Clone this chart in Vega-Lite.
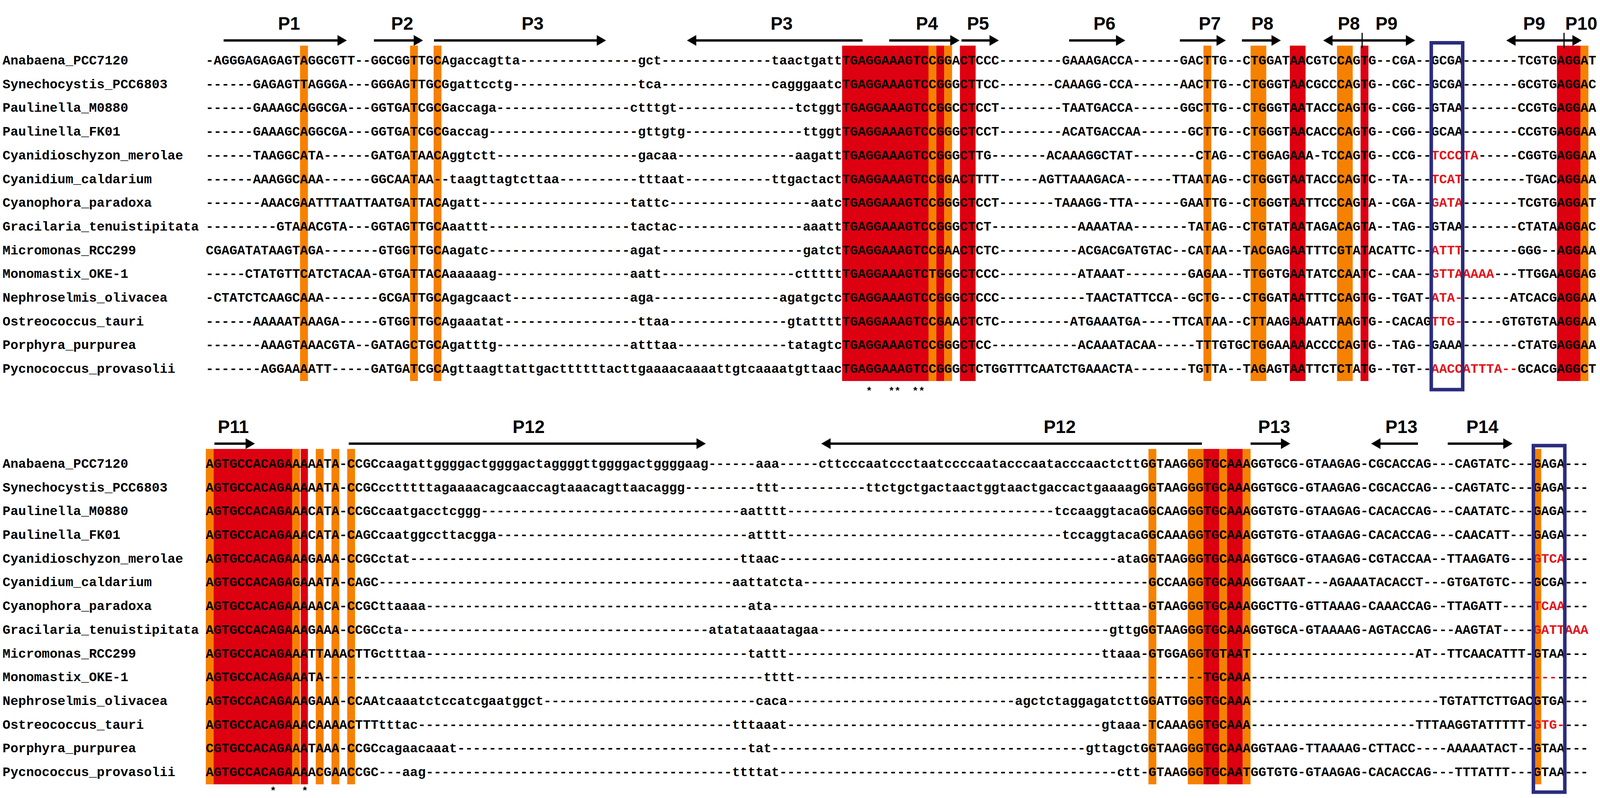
{
  "$schema": "https://vega.github.io/schema/vega-lite/v6.json",
  "width": "container",
  "height": 2042,
  "autosize": {"type": "fit-x", "contains": "padding", "resize": true},
  "padding": 0,
  "background": "white",
  "config": {"view": {"stroke": null}},
  "datasets": {
    "hl": [
      {"c": 12, "c2": 13, "r": -0.63, "r2": 13.51, "k": "o"},
      {"c": 26, "c2": 27, "r": -0.63, "r2": 13.51, "k": "o"},
      {"c": 29, "c2": 30, "r": -0.63, "r2": 13.51, "k": "o"},
      {"c": 81, "c2": 92, "r": -0.63, "r2": 13.51, "k": "r"},
      {"c": 92, "c2": 93, "r": -0.63, "r2": 13.51, "k": "o"},
      {"c": 93, "c2": 94, "r": -0.63, "r2": 13.51, "k": "r"},
      {"c": 94, "c2": 95, "r": -0.63, "r2": 13.51, "k": "o"},
      {"c": 96, "c2": 98, "r": -0.63, "r2": 13.51, "k": "r"},
      {"c": 127, "c2": 128, "r": -0.63, "r2": 13.51, "k": "o"},
      {"c": 133, "c2": 135, "r": -0.63, "r2": 13.51, "k": "o"},
      {"c": 138, "c2": 140, "r": -0.63, "r2": 13.51, "k": "r"},
      {"c": 144, "c2": 146, "r": -0.63, "r2": 13.51, "k": "o"},
      {"c": 147, "c2": 148, "r": -0.63, "r2": 13.51, "k": "r"},
      {"c": 172, "c2": 175, "r": -0.63, "r2": 13.51, "k": "r"},
      {"c": 175, "c2": 176, "r": -0.63, "r2": 13.51, "k": "o"},
      {"c": 0, "c2": 1, "r": 16.37, "r2": 30.51, "k": "o"},
      {"c": 1, "c2": 11, "r": 16.37, "r2": 30.51, "k": "r"},
      {"c": 11, "c2": 12, "r": 16.37, "r2": 30.51, "k": "o"},
      {"c": 12.08, "c2": 13, "r": 16.37, "r2": 30.51, "k": "r"},
      {"c": 14, "c2": 15, "r": 16.37, "r2": 30.51, "k": "o"},
      {"c": 16, "c2": 17, "r": 16.37, "r2": 30.51, "k": "o"},
      {"c": 18, "c2": 19, "r": 16.37, "r2": 30.51, "k": "o"},
      {"c": 120, "c2": 121, "r": 16.37, "r2": 30.51, "k": "o"},
      {"c": 125, "c2": 127, "r": 16.37, "r2": 30.51, "k": "o"},
      {"c": 127, "c2": 129, "r": 16.37, "r2": 30.51, "k": "r"},
      {"c": 129, "c2": 130, "r": 16.37, "r2": 30.51, "k": "o"},
      {"c": 130, "c2": 132, "r": 16.37, "r2": 30.51, "k": "r"},
      {"c": 132, "c2": 133, "r": 16.37, "r2": 30.51, "k": "o"},
      {"c": 169, "c2": 170, "r": 16.37, "r2": 30.51, "k": "o"}
    ],
    "box": [
      {"c": 156, "c2": 160, "r": -0.75, "r2": 13.87},
      {"c": 169, "c2": 173, "r": 16.23, "r2": 30.84}
    ],
    "names": [
      {"r": 0, "c": -25.87, "n": "Anabaena_PCC7120"},
      {"r": 1, "c": -25.87, "n": "Synechocystis_PCC6803"},
      {"r": 2, "c": -25.87, "n": "Paulinella_M0880"},
      {"r": 3, "c": -25.87, "n": "Paulinella_FK01"},
      {"r": 4, "c": -25.87, "n": "Cyanidioschyzon_merolae"},
      {"r": 5, "c": -25.87, "n": "Cyanidium_caldarium"},
      {"r": 6, "c": -25.87, "n": "Cyanophora_paradoxa"},
      {"r": 7, "c": -25.87, "n": "Gracilaria_tenuistipitata"},
      {"r": 8, "c": -25.87, "n": "Micromonas_RCC299"},
      {"r": 9, "c": -25.87, "n": "Monomastix_OKE-1"},
      {"r": 10, "c": -25.87, "n": "Nephroselmis_olivacea"},
      {"r": 11, "c": -25.87, "n": "Ostreococcus_tauri"},
      {"r": 12, "c": -25.87, "n": "Porphyra_purpurea"},
      {"r": 13, "c": -25.87, "n": "Pycnococcus_provasolii"},
      {"r": 17, "c": -25.87, "n": "Anabaena_PCC7120"},
      {"r": 18, "c": -25.87, "n": "Synechocystis_PCC6803"},
      {"r": 19, "c": -25.87, "n": "Paulinella_M0880"},
      {"r": 20, "c": -25.87, "n": "Paulinella_FK01"},
      {"r": 21, "c": -25.87, "n": "Cyanidioschyzon_merolae"},
      {"r": 22, "c": -25.87, "n": "Cyanidium_caldarium"},
      {"r": 23, "c": -25.87, "n": "Cyanophora_paradoxa"},
      {"r": 24, "c": -25.87, "n": "Gracilaria_tenuistipitata"},
      {"r": 25, "c": -25.87, "n": "Micromonas_RCC299"},
      {"r": 26, "c": -25.87, "n": "Monomastix_OKE-1"},
      {"r": 27, "c": -25.87, "n": "Nephroselmis_olivacea"},
      {"r": 28, "c": -25.87, "n": "Ostreococcus_tauri"},
      {"r": 29, "c": -25.87, "n": "Porphyra_purpurea"},
      {"r": 30, "c": -25.87, "n": "Pycnococcus_provasolii"}
    ],
    "seq": [
      {"r": 0, "c": 0, "t": "-AGGGAGAGAGTAGGCGTT--"},
      {"r": 0, "c": 21, "t": "GGCGGTTGCAgaccagtta---------------"},
      {"r": 0, "c": 55, "t": "gct--------------"},
      {"r": 0, "c": 72, "t": "taactgatt"},
      {"r": 0, "c": 81, "t": "TGAGGAAAGTCCGGACTCCC--------"},
      {"r": 0, "c": 109, "t": "GAAAGACCA------"},
      {"r": 0, "c": 124, "t": "GACTTG--CTGGATAACGTCCAGTG--CGA--"},
      {"r": 0, "c": 156, "t": "GCGA-------"},
      {"r": 0, "c": 167, "t": "TCGTGAGGAT"},

      {"r": 1, "c": 0, "t": "------GAGAGTTAGGGA---"},
      {"r": 1, "c": 21, "t": "GGGAGTTGCGgattcctg----------------"},
      {"r": 1, "c": 55, "t": "tca--------------"},
      {"r": 1, "c": 72, "t": "cagggaatc"},
      {"r": 1, "c": 81, "t": "TGAGGAAAGTCCGGGCTTCC-------"},
      {"r": 1, "c": 108, "t": "CAAAGG-CCA------"},
      {"r": 1, "c": 124, "t": "AACTTG--CTGGGTAACGCCCAGTG--CGC--"},
      {"r": 1, "c": 156, "t": "GCGA-------"},
      {"r": 1, "c": 167, "t": "GCGTGAGGAC"},

      {"r": 2, "c": 0, "t": "------GAAAGCAGGCGA---"},
      {"r": 2, "c": 21, "t": "GGTGATCGCGaccaga-----------------"},
      {"r": 2, "c": 54, "t": "ctttgt---------------"},
      {"r": 2, "c": 75, "t": "tctggt"},
      {"r": 2, "c": 81, "t": "TGAGGAAAGTCCGGCCTCCT--------"},
      {"r": 2, "c": 109, "t": "TAATGACCA------"},
      {"r": 2, "c": 124, "t": "GGCTTG--CTGGGTAATACCCAGTG--CGG--"},
      {"r": 2, "c": 156, "t": "GTAA-------"},
      {"r": 2, "c": 167, "t": "CCGTGAGGAA"},

      {"r": 3, "c": 0, "t": "------GAAAGCAGGCGA---"},
      {"r": 3, "c": 21, "t": "GGTGATCGCGaccag-------------------"},
      {"r": 3, "c": 55, "t": "gttgtg---------------"},
      {"r": 3, "c": 76, "t": "ttggt"},
      {"r": 3, "c": 81, "t": "TGAGGAAAGTCCGGGCTCCT--------"},
      {"r": 3, "c": 109, "t": "ACATGACCAA------"},
      {"r": 3, "c": 125, "t": "GCTTG--CTGGGTAACACCCAGTG--CGG--"},
      {"r": 3, "c": 156, "t": "GCAA-------"},
      {"r": 3, "c": 167, "t": "CCGTGAGGAA"},

      {"r": 4, "c": 0, "t": "------TAAGGCATA------"},
      {"r": 4, "c": 21, "t": "GATGATAACAggtctt------------------"},
      {"r": 4, "c": 55, "t": "gacaa---------------"},
      {"r": 4, "c": 75, "t": "aagatt"},
      {"r": 4, "c": 81, "t": "TGAGGAAAGTCCGGGCTTG-------"},
      {"r": 4, "c": 107, "t": "ACAAAGGCTAT--------"},
      {"r": 4, "c": 126, "t": "CTAG--CTGGAGAAA-TCCAGTG--CCG--"},
      {"r": 4, "c": 162, "t": "-----"},
      {"r": 4, "c": 167, "t": "CGGTGAGGAA"},

      {"r": 5, "c": 0, "t": "------AAAGGCAAA------"},
      {"r": 5, "c": 21, "t": "GGCAATAA--taagttagtcttaa----------"},
      {"r": 5, "c": 55, "t": "tttaat-----------"},
      {"r": 5, "c": 72, "t": "ttgactact"},
      {"r": 5, "c": 81, "t": "TGAGGAAAGTCCGGACTTTT-----"},
      {"r": 5, "c": 106, "t": "AGTTAAAGACA------"},
      {"r": 5, "c": 123, "t": "TTAATAG--CTGGGTAATACCCAGTC--TA---"},
      {"r": 5, "c": 160, "t": "--------"},
      {"r": 5, "c": 168, "t": "TGACAGGAA"},

      {"r": 6, "c": 0, "t": "-------AAACGAATTTAATTAATGATTACA"},
      {"r": 6, "c": 31, "t": "gatt-------------------"},
      {"r": 6, "c": 54, "t": "tattc------------------"},
      {"r": 6, "c": 77, "t": "aatc"},
      {"r": 6, "c": 81, "t": "TGAGGAAAGTCCGGGCTCCT-------"},
      {"r": 6, "c": 108, "t": "TAAAGG-TTA------"},
      {"r": 6, "c": 124, "t": "GAATTG--CTGGGTAATTCCCAGTA--CGA--"},
      {"r": 6, "c": 160, "t": "-------"},
      {"r": 6, "c": 167, "t": "TCGTGAGGAT"},

      {"r": 7, "c": 0, "t": "---------GTAAACGTA---"},
      {"r": 7, "c": 21, "t": "GGTAGTTGCAaattt------------------"},
      {"r": 7, "c": 54, "t": "tactac----------------"},
      {"r": 7, "c": 76, "t": "aaatt"},
      {"r": 7, "c": 81, "t": "TGAGGAAAGTCCGGGCTCT-----------"},
      {"r": 7, "c": 111, "t": "AAAATAA-------"},
      {"r": 7, "c": 125, "t": "TATAG--CTGTATAATAGACAGTA--TAG--"},
      {"r": 7, "c": 156, "t": "GTAA-------"},
      {"r": 7, "c": 167, "t": "CTATAAGGAC"},

      {"r": 8, "c": 0, "t": "CGAGATATAAGTAGA-------"},
      {"r": 8, "c": 22, "t": "GTGGTTGCAagatc------------------"},
      {"r": 8, "c": 54, "t": "agat------------------"},
      {"r": 8, "c": 76, "t": "gatct"},
      {"r": 8, "c": 81, "t": "TGAGGAAAGTCCGAACTCTC----------"},
      {"r": 8, "c": 111, "t": "ACGACGATGTAC--"},
      {"r": 8, "c": 125, "t": "CATAA--TACGAGAATTTCGTATACATTC--"},
      {"r": 8, "c": 160, "t": "-------GGG--"},
      {"r": 8, "c": 172, "t": "AGGAA"},

      {"r": 9, "c": 0, "t": "-----CTATGTTCATCTACAA-"},
      {"r": 9, "c": 22, "t": "GTGATTACAaaaaag-----------------"},
      {"r": 9, "c": 54, "t": "aatt-----------------"},
      {"r": 9, "c": 75, "t": "cttttt"},
      {"r": 9, "c": 81, "t": "TGAGGAAAGTCTGGGCTCCC----------"},
      {"r": 9, "c": 111, "t": "ATAAAT--------"},
      {"r": 9, "c": 125, "t": "GAGAA--TTGGTGAATATCCAATC--CAA--"},
      {"r": 9, "c": 164, "t": "---"},
      {"r": 9, "c": 167, "t": "TTGGAAGGAG"},

      {"r": 10, "c": 0, "t": "-CTATCTCAAGCAAA-------"},
      {"r": 10, "c": 22, "t": "GCGATTGCAgagcaact---------------"},
      {"r": 10, "c": 54, "t": "aga----------------"},
      {"r": 10, "c": 73, "t": "agatgctc"},
      {"r": 10, "c": 81, "t": "TGAGGAAAGTCCGGGCTCCC-----------"},
      {"r": 10, "c": 112, "t": "TAACTATTCCA--"},
      {"r": 10, "c": 125, "t": "GCTG---CTGGATAATTTCCAGTG--TGAT-"},
      {"r": 10, "c": 160, "t": "------"},
      {"r": 10, "c": 166, "t": "ATCACGAGGAA"},

      {"r": 11, "c": 0, "t": "------AAAAATAAAGA-----"},
      {"r": 11, "c": 22, "t": "GTGGTTGCAgaaatat-----------------"},
      {"r": 11, "c": 55, "t": "ttaa---------------"},
      {"r": 11, "c": 74, "t": "gtatttt"},
      {"r": 11, "c": 81, "t": "TGAGGAAAGTCCGAACTCTC---------"},
      {"r": 11, "c": 110, "t": "ATGAAATGA----"},
      {"r": 11, "c": 123, "t": "TTCATAA--CTTAAGAAAATTAAGTG--CACAG"},
      {"r": 11, "c": 160, "t": "-----"},
      {"r": 11, "c": 165, "t": "GTGTGTAAGGAA"},

      {"r": 12, "c": 0, "t": "-------AAAGTAAACGTA--"},
      {"r": 12, "c": 21, "t": "GATAGCTGCAgatttg-----------------"},
      {"r": 12, "c": 54, "t": "atttaa--------------"},
      {"r": 12, "c": 74, "t": "tatagtc"},
      {"r": 12, "c": 81, "t": "TGAGGAAAGTCCGGGCTCC-----------"},
      {"r": 12, "c": 111, "t": "ACAAATACAA-----"},
      {"r": 12, "c": 126, "t": "TTTGTGCTGGAAAAACCCCAGTG--TAG--"},
      {"r": 12, "c": 156, "t": "GAAA-------"},
      {"r": 12, "c": 167, "t": "CTATGAGGAA"},

      {"r": 13, "c": 0, "t": "-------AGGAAAATT-----"},
      {"r": 13, "c": 21, "t": "GATGATCGCAgttaagttattgacttttttacttgaaaacaaaattgtcaaaatgttaac"},
      {"r": 13, "c": 81, "t": "TGAGGAAAGTCCGGGCTCTGGTTTCAATCTGAAACTA-------"},
      {"r": 13, "c": 125, "t": "TGTTA--TAGAGTAATTCTCTATG--TGT--"},
      {"r": 13, "c": 167, "t": "GCACGAGGCT"},

      {"r": 17, "c": 0, "t": "AGTGCCACAGAAAAATA-CCGCcaagattggggactggggactaggggttggggactggggaag------"},
      {"r": 17, "c": 70, "t": "aaa-----"},
      {"r": 17, "c": 78, "t": "cttcccaatccctaatccccaatacccaatacccaactctt"},
      {"r": 17, "c": 119, "t": "GGTAAGGGTGCAAAGGTGCG-GTAAGAG-CGCACCAG---CAGTATC---GAGA---"},

      {"r": 18, "c": 0, "t": "AGTGCCACAGAAAAATA-CCGCcctttttagaaaacagcaaccagtaaacagttaacaggg---------"},
      {"r": 18, "c": 70, "t": "ttt-----------"},
      {"r": 18, "c": 84, "t": "ttctgctgactaactggtaactgaccactgaaaag"},
      {"r": 18, "c": 119, "t": "GGTAAGGGTGCAAAGGTGCG-GTAAGAG-CGCACCAG---CAGTATC---GAGA---"},

      {"r": 19, "c": 0, "t": "AGTGCCACAGAAACATA-CCGCcaatgacctcggg"},
      {"r": 19, "c": 35, "t": "---------------------------------"},
      {"r": 19, "c": 68, "t": "aatttt"},
      {"r": 19, "c": 74, "t": "----------------------------------"},
      {"r": 19, "c": 108, "t": "tccaaggtaca"},
      {"r": 19, "c": 119, "t": "GGCAAGGGTGCAAAGGTGTG-GTAAGAG-CACACCAG---CAATATC---GAGA---"},

      {"r": 20, "c": 0, "t": "AGTGCCACAGAAACATA-CAGCcaatggccttacgga"},
      {"r": 20, "c": 37, "t": "--------------------------------"},
      {"r": 20, "c": 69, "t": "atttt"},
      {"r": 20, "c": 74, "t": "-----------------------------------"},
      {"r": 20, "c": 109, "t": "tccaggtaca"},
      {"r": 20, "c": 119, "t": "GGCAAAGGTGCAAAGGTGTG-GTAAGAG-CACACCAG---CAACATT---GAGA---"},

      {"r": 21, "c": 0, "t": "AGTGCCACAGAAAGAAA-CCGCctat"},
      {"r": 21, "c": 26, "t": "------------------------------------------"},
      {"r": 21, "c": 68, "t": "ttaac"},
      {"r": 21, "c": 73, "t": "-------------------------------------------"},
      {"r": 21, "c": 116, "t": "ata"},
      {"r": 21, "c": 119, "t": "GGTAAGGGTGCAAAGGTGCG-GTAAGAG-CGTACCAA--TTAAGATG---"},
      {"r": 21, "c": 173, "t": "---"},

      {"r": 22, "c": 0, "t": "AGTGCCACAGAGAAATA-CAGC"},
      {"r": 22, "c": 22, "t": "---------------------------------------------"},
      {"r": 22, "c": 67, "t": "aattatcta"},
      {"r": 22, "c": 76, "t": "--------------------------------------------"},
      {"r": 22, "c": 120, "t": "GCCAAGGTGCAAAGGTGAAT---AGAAATACACCT---GTGATGTC---GCGA---"},

      {"r": 23, "c": 0, "t": "AGTGCCACAGAAAAACA-CCGCttaaaa"},
      {"r": 23, "c": 28, "t": "-----------------------------------------"},
      {"r": 23, "c": 69, "t": "ata"},
      {"r": 23, "c": 72, "t": "-----------------------------------------"},
      {"r": 23, "c": 113, "t": "ttttaa-"},
      {"r": 23, "c": 120, "t": "GTAAGGGTGCAAAGGCTTG-GTTAAAG-CAAACCAG--TTAGATT----"},
      {"r": 23, "c": 173, "t": "---"},

      {"r": 24, "c": 0, "t": "AGTGCCACAGAAAGAAA-CCGCcta"},
      {"r": 24, "c": 25, "t": "---------------------------------------"},
      {"r": 24, "c": 64, "t": "atatataaatagaa"},
      {"r": 24, "c": 78, "t": "-------------------------------------"},
      {"r": 24, "c": 115, "t": "gttg"},
      {"r": 24, "c": 119, "t": "GGTAAGGGTGCAAAGGTGCA-GTAAAAG-AGTACCAG---AAGTAT----"},

      {"r": 25, "c": 0, "t": "AGTGCCACAGAAATTAAACTTGctttaa"},
      {"r": 25, "c": 28, "t": "-----------------------------------------"},
      {"r": 25, "c": 69, "t": "tattt"},
      {"r": 25, "c": 74, "t": "----------------------------------------"},
      {"r": 25, "c": 114, "t": "ttaaa-"},
      {"r": 25, "c": 120, "t": "GTGGAGGTGTAAT"},
      {"r": 25, "c": 133, "t": "---------------------"},
      {"r": 25, "c": 154, "t": "AT--TTCAACATTT-GTAA---"},

      {"r": 26, "c": 0, "t": "AGTGCCACAGAAATA"},
      {"r": 26, "c": 15, "t": "--------------------------------------------------------"},
      {"r": 26, "c": 71, "t": "tttt"},
      {"r": 26, "c": 75, "t": "---------------------------------------------------"},
      {"r": 26, "c": 126, "t": "-TGCAAA"},
      {"r": 26, "c": 133, "t": "------------------------------------"},
      {"r": 26, "c": 172, "t": "----"},

      {"r": 27, "c": 0, "t": "AGTGCCACAGAAAGAAA-CCAAtcaaatctccatcgaatggct"},
      {"r": 27, "c": 43, "t": "---------------------------"},
      {"r": 27, "c": 70, "t": "caca"},
      {"r": 27, "c": 74, "t": "-----------------------------"},
      {"r": 27, "c": 103, "t": "agctctaggagatctt"},
      {"r": 27, "c": 119, "t": "GGATTGGGTGCAAA"},
      {"r": 27, "c": 133, "t": "------------------------"},
      {"r": 27, "c": 157, "t": "TGTATTCTTGACGTGA---"},

      {"r": 28, "c": 0, "t": "AGTGCCACAGAAACAAAACTTTtttac"},
      {"r": 28, "c": 27, "t": "----------------------------------------"},
      {"r": 28, "c": 67, "t": "tttaaat"},
      {"r": 28, "c": 74, "t": "----------------------------------------"},
      {"r": 28, "c": 114, "t": "gtaaa-"},
      {"r": 28, "c": 120, "t": "TCAAAGGTGCAAA"},
      {"r": 28, "c": 133, "t": "---------------------"},
      {"r": 28, "c": 154, "t": "TTTAAGGTATTTTT-"},
      {"r": 28, "c": 173, "t": "---"},

      {"r": 29, "c": 0, "t": "CGTGCCACAGAAATAAA-CCGCcagaacaaat"},
      {"r": 29, "c": 32, "t": "-------------------------------------"},
      {"r": 29, "c": 69, "t": "tat"},
      {"r": 29, "c": 72, "t": "----------------------------------------"},
      {"r": 29, "c": 112, "t": "gttagct"},
      {"r": 29, "c": 119, "t": "GGTAAGGGTGCAAAGGTAAG-TTAAAAG-CTTACC----AAAAATACT--GTAA---"},

      {"r": 30, "c": 0, "t": "AGTGCCACAGAAAACGAACCGC---aag"},
      {"r": 30, "c": 28, "t": "---------------------------------------"},
      {"r": 30, "c": 67, "t": "ttttat"},
      {"r": 30, "c": 73, "t": "-------------------------------------------"},
      {"r": 30, "c": 116, "t": "ctt-"},
      {"r": 30, "c": 120, "t": "GTAAGGGTGCAATGGTGTG-GTAAGAG-CACACCAG---TTTATTT---GTAA---"}
    ],
    "red": [
      {"r": 4, "c": 156, "t": "TCCCTA"},
      {"r": 5, "c": 156, "t": "TCAT"},
      {"r": 6, "c": 156, "t": "GATA"},
      {"r": 8, "c": 156, "t": "ATTT"},
      {"r": 9, "c": 156, "t": "GTTAAAAA"},
      {"r": 10, "c": 156, "t": "ATA-"},
      {"r": 11, "c": 156, "t": "TTG-"},
      {"r": 13, "c": 156, "t": "AACCATTTA--"},
      {"r": 21, "c": 169, "t": "GTCA"},
      {"r": 23, "c": 169, "t": "TCAA"},
      {"r": 24, "c": 169, "t": "GATTAAA"},
      {"r": 26, "c": 169, "t": "---"},
      {"r": 28, "c": 169, "t": "GTG-"}
    ],
    "lab": [
      {"c": 10.6, "r": -1.53, "t": "P1"},
      {"c": 25.0, "r": -1.53, "t": "P2"},
      {"c": 41.6, "r": -1.53, "t": "P3"},
      {"c": 73.3, "r": -1.53, "t": "P3"},
      {"c": 91.8, "r": -1.53, "t": "P4"},
      {"c": 98.3, "r": -1.53, "t": "P5"},
      {"c": 114.4, "r": -1.53, "t": "P6"},
      {"c": 127.8, "r": -1.53, "t": "P7"},
      {"c": 134.5, "r": -1.53, "t": "P8"},
      {"c": 145.5, "r": -1.53, "t": "P8"},
      {"c": 150.3, "r": -1.53, "t": "P9"},
      {"c": 169.1, "r": -1.53, "t": "P9"},
      {"c": 175.1, "r": -1.53, "t": "P10"},
      {"c": 3.5, "r": 15.47, "t": "P11"},
      {"c": 41.1, "r": 15.47, "t": "P12"},
      {"c": 108.7, "r": 15.47, "t": "P12"},
      {"c": 136.0, "r": 15.47, "t": "P13"},
      {"c": 152.2, "r": 15.47, "t": "P13"},
      {"c": 162.5, "r": 15.47, "t": "P14"}
    ],
    "arr": [
      {"c": 2.27, "c2": 17.4, "r": -0.85},
      {"c": 21.4, "c2": 27.1, "r": -0.85},
      {"c": 29.05, "c2": 50.4, "r": -0.85},
      {"c": 61.8, "c2": 83.6, "r": -0.85},
      {"c": 87.0, "c2": 95.4, "r": -0.85},
      {"c": 96.2, "c2": 100.4, "r": -0.85},
      {"c": 109.9, "c2": 116.5, "r": -0.85},
      {"c": 124.0, "c2": 129.3, "r": -0.85},
      {"c": 131.9, "c2": 136.3, "r": -0.85},
      {"c": 142.8, "c2": 153.4, "r": -0.85},
      {"c": 166.1, "c2": 174.6, "r": -0.85},
      {"c": 1.1, "c2": 5.7, "r": 16.15},
      {"c": 18.2, "c2": 63.1, "r": 16.15},
      {"c": 78.9, "c2": 126.8, "r": 16.15},
      {"c": 133.0, "c2": 137.5, "r": 16.15},
      {"c": 148.9, "c2": 154.3, "r": 16.15},
      {"c": 158.1, "c2": 165.8, "r": 16.15}
    ],
    "head": [
      {"c": 17.36, "r": -0.85, "d": "R"},
      {"c": 27.06, "r": -0.85, "d": "R"},
      {"c": 50.36, "r": -0.85, "d": "R"},
      {"c": 61.84, "r": -0.85, "d": "L"},
      {"c": 95.36, "r": -0.85, "d": "R"},
      {"c": 100.36, "r": -0.85, "d": "R"},
      {"c": 116.46, "r": -0.85, "d": "R"},
      {"c": 129.26, "r": -0.85, "d": "R"},
      {"c": 136.26, "r": -0.85, "d": "R"},
      {"c": 142.84, "r": -0.85, "d": "L"},
      {"c": 153.36, "r": -0.85, "d": "R"},
      {"c": 166.14, "r": -0.85, "d": "L"},
      {"c": 174.56, "r": -0.85, "d": "R"},
      {"c": 5.66, "r": 16.15, "d": "R"},
      {"c": 63.06, "r": 16.15, "d": "R"},
      {"c": 78.94, "r": 16.15, "d": "L"},
      {"c": 137.46, "r": 16.15, "d": "R"},
      {"c": 148.94, "r": 16.15, "d": "L"},
      {"c": 165.76, "r": 16.15, "d": "R"}
    ],
    "tick": [
      {"c": 147.2, "r": -1.17, "r2": -0.52},
      {"c": 172.9, "r": -1.17, "r2": -0.52}
    ],
    "star": [
      {"c": 84.44, "r": 14.07},
      {"c": 87.29, "r": 14.07},
      {"c": 88.05, "r": 14.07},
      {"c": 90.32, "r": 14.07},
      {"c": 91.14, "r": 14.07},
      {"c": 8.57, "r": 30.93},
      {"c": 12.61, "r": 30.93}
    ]
  },
  "encoding": {
    "x": {"field": "c", "type": "quantitative", "scale": {"domain": [-26.198, 177.479], "nice": false, "zero": false}, "axis": null},
    "y": {"field": "r", "type": "quantitative", "scale": {"domain": [-2.5535, 31.087], "reverse": true, "nice": false, "zero": false}, "axis": null}
  },
  "layer": [
    {
      "data": {"name": "hl"},
      "mark": {"type": "rect", "strokeWidth": 0},
      "encoding": {
        "x2": {"field": "c2"},
        "y2": {"field": "r2"},
        "fill": {"field": "k", "type": "nominal", "scale": {"domain": ["o", "r"], "range": ["#F68100", "#DD0010"]}, "legend": null}
      }
    },
    {
      "data": {"name": "seq"},
      "mark": {"type": "text", "align": "left", "baseline": "middle", "font": "Liberation Mono", "fontWeight": "bold", "fontSize": {"expr": "width / 122.206"}, "color": "#000000"},
      "encoding": {"text": {"field": "t"}}
    },
    {
      "data": {"name": "red"},
      "mark": {"type": "text", "align": "left", "baseline": "middle", "font": "Liberation Mono", "fontWeight": "bold", "fontSize": {"expr": "width / 122.206"}, "color": "#E4141B"},
      "encoding": {"text": {"field": "t"}}
    },
    {
      "data": {"name": "names"},
      "mark": {"type": "text", "align": "left", "baseline": "middle", "font": "Liberation Mono", "fontWeight": "bold", "fontSize": {"expr": "width / 122.206"}, "color": "#000000"},
      "encoding": {"text": {"field": "n"}}
    },
    {
      "data": {"name": "box"},
      "mark": {"type": "rect", "filled": false, "stroke": "#2A2C7E", "strokeWidth": 9},
      "encoding": {"x2": {"field": "c2"}, "y2": {"field": "r2"}}
    },
    {
      "data": {"name": "lab"},
      "mark": {"type": "text", "align": "center", "baseline": "middle", "font": "Liberation Sans", "fontWeight": "bold", "fontSize": {"expr": "min(56, width * 70 / 6204)"}, "color": "#000000"},
      "encoding": {"text": {"field": "t"}}
    },
    {
      "data": {"name": "arr"},
      "mark": {"type": "rule", "strokeWidth": 6, "color": "#000000"},
      "encoding": {"x2": {"field": "c2"}}
    },
    {
      "data": {"name": "head"},
      "mark": {"type": "point", "filled": true, "size": {"expr": "1150 * width / 6204"}, "color": "#000000", "opacity": 1},
      "encoding": {
        "shape": {"field": "d", "type": "nominal", "scale": {"domain": ["R", "L"], "range": ["triangle-right", "triangle-left"]}, "legend": null}
      }
    },
    {
      "data": {"name": "tick"},
      "mark": {"type": "rule", "strokeWidth": 3, "color": "#000000"},
      "encoding": {"y2": {"field": "r2"}}
    },
    {
      "data": {"name": "star"},
      "mark": {"type": "text", "align": "center", "baseline": "alphabetic", "font": "Liberation Mono", "fontWeight": "bold", "fontSize": {"expr": "width * 40 / 6204"}, "color": "#000000"},
      "encoding": {"text": {"value": "*"}}
    }
  ]
}
